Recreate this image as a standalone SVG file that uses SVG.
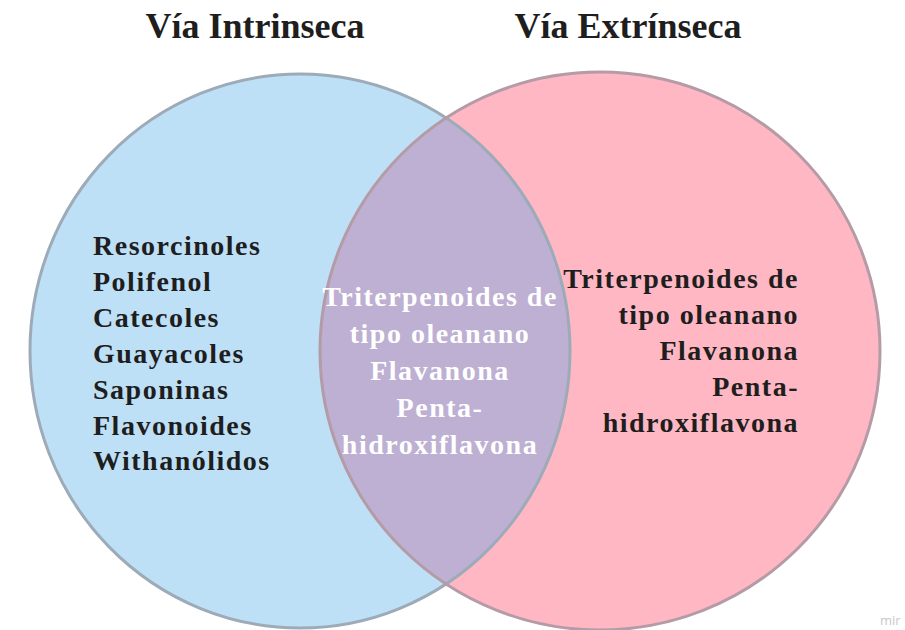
<svg xmlns="http://www.w3.org/2000/svg" width="905" height="630" viewBox="0 0 905 630">
<style>
.title{font-family:"Liberation Serif","Times New Roman",serif;font-weight:bold;font-size:36px;fill:#1e1e1e;text-anchor:middle}
.item{font-family:"Liberation Serif","Times New Roman",serif;font-weight:bold;font-size:28px;letter-spacing:1.5px;fill:#1e1e1e}
.mid{font-family:"Liberation Serif","Times New Roman",serif;font-weight:bold;font-size:28px;letter-spacing:1.5px;fill:#ffffff;text-anchor:middle}
.right{text-anchor:end}
</style>
<defs>
<clipPath id="clipL"><ellipse cx="300" cy="351" rx="270" ry="277"/></clipPath>
</defs>
<rect width="905" height="630" fill="#ffffff"/>
<g id="circle-intrinseca">
<ellipse cx="300" cy="351" rx="270" ry="277" fill="#bee0f7"/>
</g>
<g id="circle-extrinseca">
<ellipse cx="600" cy="351" rx="280" ry="279" fill="#ffb7c3"/>
</g>
<g id="overlap">
<ellipse cx="600" cy="351" rx="280" ry="279" fill="#bdb0d2" clip-path="url(#clipL)"/>
<ellipse cx="300" cy="351" rx="270" ry="277" fill="none" stroke="#9dabb8" stroke-width="3"/>
<ellipse cx="600" cy="351" rx="280" ry="279" fill="none" stroke="#b49ba6" stroke-width="3"/>
</g>
<g id="titles">
<text class="title" x="255" y="38">Vía Intrinseca</text>
<text class="title" x="628" y="38">Vía Extrínseca</text>
</g>
<g id="list-intrinseca">
<text class="item" x="93" y="255">Resorcinoles</text>
<text class="item" x="93" y="291">Polifenol</text>
<text class="item" x="93" y="327">Catecoles</text>
<text class="item" x="93" y="363">Guayacoles</text>
<text class="item" x="93" y="399">Saponinas</text>
<text class="item" x="93" y="435">Flavonoides</text>
<text class="item" x="93" y="470">Withanólidos</text>
</g>
<g id="list-comun">
<text class="mid" x="440" y="306">Triterpenoides de</text>
<text class="mid" x="440" y="343">tipo oleanano</text>
<text class="mid" x="440" y="380">Flavanona</text>
<text class="mid" x="440" y="417">Penta-</text>
<text class="mid" x="440" y="454">hidroxiflavona</text>
</g>
<g id="list-extrinseca">
<text class="item right" x="799" y="288">Triterpenoides de</text>
<text class="item right" x="799" y="324">tipo oleanano</text>
<text class="item right" x="799" y="360">Flavanona</text>
<text class="item right" x="799" y="396">Penta-</text>
<text class="item right" x="799" y="432">hidroxiflavona</text>
</g>
<text x="880" y="625" font-family="Open Sans,sans-serif" font-size="13" fill="#c8c8c8">mir</text>
</svg>
